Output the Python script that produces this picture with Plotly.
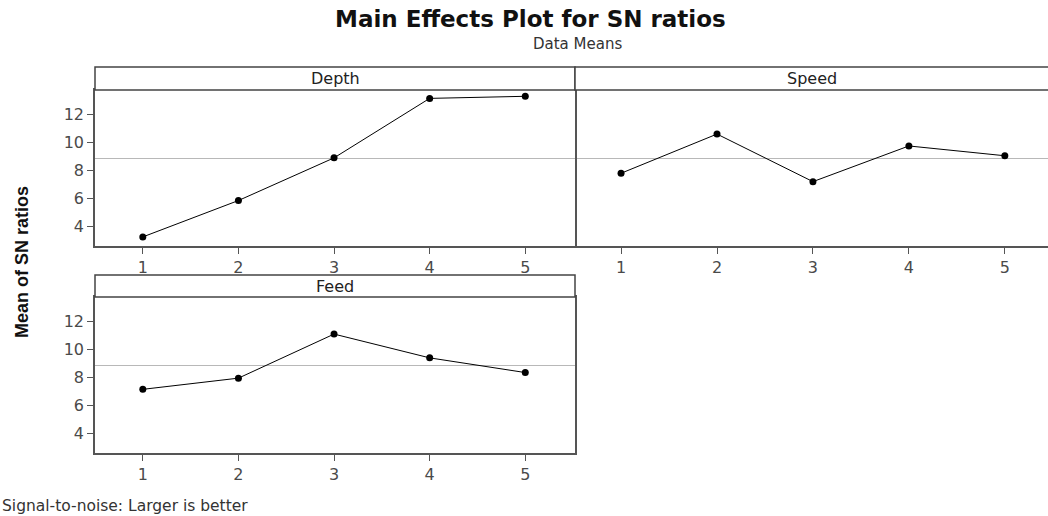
import plotly.graph_objects as go
import numpy as np

# ---- data ----
levels = [1, 2, 3, 4, 5]
depth = [3.25, 5.85, 8.9, 13.15, 13.3]
speed = [7.8, 10.6, 7.2, 9.75, 9.05]
feed = [7.15, 7.95, 11.1, 9.4, 8.35]
factor_names = ["Depth", "Speed", "Feed"]
y_ticks = [4, 6, 8, 10, 12]
grand_mean = float(np.mean(depth + speed + feed))

W, H = 1048, 516
def px(x):
    return x / W
def py(y):
    return 1 - y / H

FONT = "DejaVu Sans"
AX = "#555555"
Y_RANGE = [2.6, 13.75]

fig = go.Figure()
series = [depth, speed, feed]
axes_ids = ["", "2", "3"]
for vals, aid in zip(series, axes_ids):
    fig.add_trace(go.Scatter(
        x=levels, y=vals, mode="lines+markers",
        line=dict(color="black", width=1),
        marker=dict(color="black", size=7, symbol="circle"),
        xaxis="x" + aid, yaxis="y" + aid, showlegend=False,
        hoverinfo="x+y"))

tickfont = dict(family=FONT, size=16, color="#4a4a4a")

def xax(domain, rng, mirror=True):
    return dict(domain=domain, range=rng, tickvals=levels, ticks="outside",
                ticklen=6, tickcolor=AX, tickwidth=1, showline=True,
                linecolor=AX, linewidth=1.5, mirror=mirror, showgrid=False,
                zeroline=False, tickfont=tickfont, fixedrange=True)

def yax(domain, anchor, labels=True, mirror=True, line=True):
    return dict(domain=domain, range=Y_RANGE, tickvals=y_ticks,
                ticks="outside" if labels else "", ticklen=6, tickcolor=AX,
                tickwidth=1, showticklabels=labels, showline=line,
                linecolor=AX, linewidth=1.5, mirror=mirror, showgrid=False,
                zeroline=False, tickfont=tickfont, anchor=anchor,
                fixedrange=True)

top_y = [py(246), py(90)]
bot_y = [py(453), py(297)]
left_x = [px(95), px(575)]
right_x = [px(575), 1.0]

fig.update_layout(
    xaxis=dict(xax(left_x, [0.5, 5.52]), anchor="y"),
    yaxis=yax(top_y, "x"),
    xaxis2=dict(xax(right_x, [0.52, 5.45]), anchor="y2"),
    yaxis2=yax(top_y, "x2", labels=False, mirror=False, line=False),
    xaxis3=dict(xax(left_x, [0.5, 5.52]), anchor="y3"),
    yaxis3=yax(bot_y, "x3"),
)

shapes = []
annotations = []
# reference line at grand mean
for aid in axes_ids:
    xr = "x" + aid
    shapes.append(dict(type="line", xref=xr + " domain", yref="y" + aid,
                       x0=0, x1=1, y0=grand_mean, y1=grand_mean,
                       line=dict(color="#b8b8b8", width=1), layer="below"))

# strip headers
strips = [
    (factor_names[0], 95, 575, 67, 90, 335),
    (factor_names[1], 575, 1060, 67, 90, 812),
    (factor_names[2], 95, 575, 275, 297, 335),
]
for name, x0, x1, y0, y1, xc in strips:
    shapes.append(dict(type="rect", xref="paper", yref="paper",
                       x0=px(x0), x1=px(x1), y0=py(y1), y1=py(y0),
                       line=dict(color="#444444", width=1.5),
                       fillcolor="white"))
    annotations.append(dict(text=name, xref="paper", yref="paper",
                            x=px(xc), y=py((y0 + y1) / 2), showarrow=False,
                            xanchor="center", yanchor="middle",
                            font=dict(family=FONT, size=16, color="#222222")))

annotations += [
    dict(text="<b>Main Effects Plot for SN ratios</b>", xref="paper",
         yref="paper", x=px(530), y=py(19), showarrow=False,
         xanchor="center", yanchor="middle",
         font=dict(family=FONT, size=23, color="#111111")),
    dict(text="Data Means", xref="paper", yref="paper", x=px(577),
         y=py(44), showarrow=False, xanchor="center", yanchor="middle",
         font=dict(family=FONT, size=15, color="#333333")),
    dict(text="<b>Mean of SN ratios</b>", xref="paper", yref="paper",
         x=px(22), y=py(262), showarrow=False, textangle=-90,
         xanchor="center", yanchor="middle",
         font=dict(family="Liberation Sans Narrow, Liberation Sans, Arial",
                   size=18, color="#111111")),
    dict(text="Signal-to-noise: Larger is better", xref="paper",
         yref="paper", x=0, y=py(506), showarrow=False, xanchor="left",
         yanchor="middle",
         font=dict(family=FONT, size=15.5, color="#333333")),
]

fig.update_layout(
    width=W, height=H, autosize=False,
    margin=dict(l=0, r=0, t=0, b=0),
    paper_bgcolor="white", plot_bgcolor="white",
    shapes=shapes, annotations=annotations, showlegend=False,
)

fig.write_html("out.html",
               config={"displayModeBar": False},
               post_script="document.body.style.margin='0';"
                           "document.body.style.overflow='hidden';")
